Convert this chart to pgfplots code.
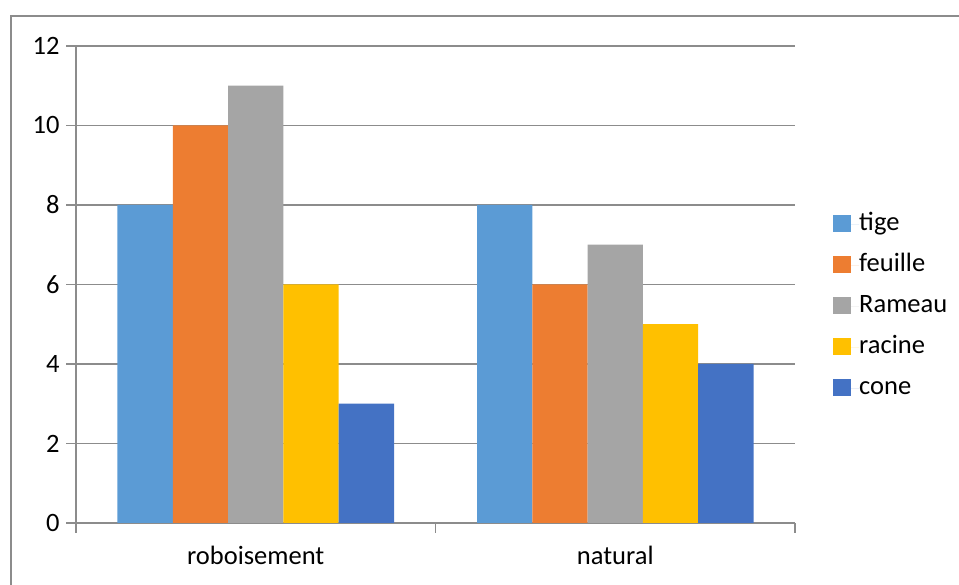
\documentclass[border=0pt]{standalone}
\usepackage{fontspec}
\setmainfont{Carlito}
\usepackage{pgfplots}
\pgfplotsset{compat=1.18}

\definecolor{tige}{HTML}{5B9BD5}
\definecolor{feuille}{HTML}{ED7D31}
\definecolor{rameau}{HTML}{A5A5A5}
\definecolor{racine}{HTML}{FFC000}
\definecolor{cone}{HTML}{4472C4}
\definecolor{linegray}{HTML}{8C8C8C}

\newcommand{\chartfont}{\fontsize{26.5}{30}\selectfont}

\begin{document}
\begin{tikzpicture}[x=1pt,y=1pt]
\path[use as bounding box] (0,0) rectangle (959,585);
% chart area frame
\draw[linegray, line width=2pt] (11,-5) -- (11,569) -- (965,569);
\begin{axis}[
  at={(76pt,62pt)}, anchor=south west,
  scale only axis, width=719pt, height=477pt,
  xmin=-0.5, xmax=1.5, ymin=0, ymax=12,
  ytick={0,2,...,12},
  xtick={-0.5,0.5,1.5},
  xticklabels={roboisement,natural},
  x tick label as interval,
  axis lines=left,
  axis line style={-, linegray, line width=1.5pt},
  ymajorgrids,
  major grid style={linegray, line width=1.5pt},
  tick style={linegray, line width=1.5pt},
  major tick length=10pt,
  tick align=outside,
  ticklabel style={font=\chartfont, text=black},
  yticklabel style={xshift=-3pt},
  xticklabel style={yshift=-10pt},
  /pgf/number format/assume math mode=true,
  ybar=0pt, bar width=55.3pt,
  % square swatch, with blank room before the entry text
  legend image code/.code={
    \fill[#1] (0pt,-7.5pt) rectangle (17.5pt,10pt);
    \path (0pt,0pt) -- (26pt,0pt);},
  legend cell align=left,
  legend style={draw=none, fill=none, inner sep=0pt,
    at={(1.0529,0.651)}, anchor=north west,
    font=\chartfont, row sep=17pt,
    nodes={inner sep=0pt, text height=18pt, text depth=6pt}},
]
\addplot[fill=tige, draw=none] coordinates {(0,8) (1,8)};
\addplot[fill=feuille, draw=none] coordinates {(0,10) (1,6)};
\addplot[fill=rameau, draw=none] coordinates {(0,11) (1,7)};
\addplot[fill=racine, draw=none] coordinates {(0,6) (1,5)};
\addplot[fill=cone, draw=none] coordinates {(0,3) (1,4)};
\legend{tige,feuille,Rameau,racine,cone}
\end{axis}
\end{tikzpicture}
\end{document}
